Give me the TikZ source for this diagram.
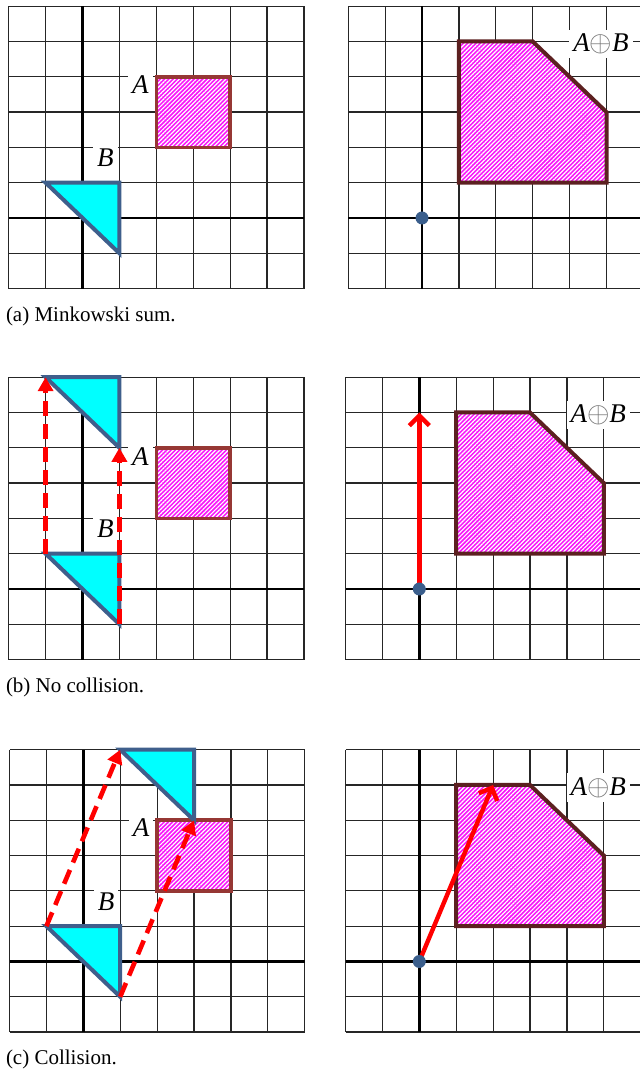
\documentclass[tikz,border=0pt]{standalone}
\usepackage{fontspec}
\setmainfont{Liberation Serif}
\usetikzlibrary{arrows.meta, patterns.meta}

\definecolor{robotblue}{RGB}{63,95,140}
\definecolor{robotfill}{RGB}{0,255,255}
\definecolor{obstred}{RGB}{150,55,52}
\definecolor{obstfill}{RGB}{250,20,250}
\definecolor{sumbrown}{RGB}{92,32,32}
\definecolor{dotblue}{RGB}{58,94,140}

\begin{document}
\begin{tikzpicture}[
    gridline/.style={draw=black!85, line width=0.6pt},
    axis/.style={draw=black, line width=1.4pt},
    robot/.style={fill=robotfill, draw=robotblue, line width=2pt},
    obst/.style={draw=obstred, line width=1.8pt, preaction={fill=obstfill}, pattern={Lines[angle=45, distance=1.5pt, line width=0.6pt]}, pattern color=white},
    msum/.style={obst, draw=sumbrown, line width=2pt},
    lbl/.style={fill=white, inner sep=2pt, font=\fontsize{13.5}{16}\selectfont\itshape},
    sweep/.style={-{Triangle[length=7pt, width=7.5pt]}, red, line width=2.3pt, dash pattern=on 7.5pt off 4pt},
    motion/.style={-{Straight Barb[length=5pt, width=10pt]}, red, line width=2.2pt},
    origin/.style={circle, fill=dotblue, inner sep=0pt, minimum size=6.5pt},
    caption/.style={anchor=base west, inner sep=0pt, font=\fontsize{10.5}{12}\selectfont},
    cellunit/.style={x=18.45pt, y=17.65pt}
]

% Grid Panel Definition
\tikzset{
    panel/.pic={
        \foreach \i in {-2,...,6} {
            \draw[gridline] (\i,-2) -- (\i,6);
            \draw[gridline] (-2,\i) -- (6,\i);
        }
        \draw[axis] (-2,0) -- (6,0);
        \draw[axis] (0,-2) -- (0,6);
    }
}

\useasboundingbox (0,0) rectangle (319.5pt,536.5pt);

% (a) Minkowski sum
\begin{scope}[shift={(41.25pt,427.5pt)}, cellunit]
    \pic (GridA) at (0,0) {panel};
    \draw[robot] (-1,1) -- (1,1) -- (1,-1) -- cycle;
    \draw[obst] (2,2) rectangle (4,4);
    \node[lbl] (LabelA1) at (1.57,3.78) {A};
    \node[lbl] (LabelB1) at (0.62,1.7) {B};
\end{scope}
\begin{scope}[shift={(211pt,427.5pt)}, cellunit]
    \pic (SumA) at (0,0) {panel};
    \draw[msum] (1,1) -- (5,1) -- (5,3) -- (3,5) -- (1,5) -- cycle;
    \node[lbl] (LabelS1) at (4.85,4.93) {A{\upshape\color{black!55}$\oplus$}B};
    \node[origin] (Dot1) at (0,0) {};
\end{scope}
\node[caption] (CapA) at (2.8pt,375.5pt) {(a) Minkowski sum.};

% (b) No collision
\begin{scope}[shift={(41.25pt,242pt)}, cellunit]
    \pic (GridB) at (0,0) {panel};
    \draw[robot] (-1,1) -- (1,1) -- (1,-1) -- cycle;
    \draw[robot] (-1,6) -- (1,6) -- (1,4) -- cycle;
    \draw[obst] (2,2) rectangle (4,4);
    \node[lbl] (LabelA2) at (1.57,3.75) {A};
    \node[lbl] (LabelB2) at (0.62,1.7) {B};
    \coordinate (StartL2) at (-1,1);
    \coordinate (EndL2) at (-1,6);
    \coordinate (StartR2) at (1,-1);
    \coordinate (EndR2) at (1,4);
    \draw[sweep] (StartL2) -- (EndL2);
    \draw[sweep] (StartR2) -- (EndR2);
\end{scope}
\begin{scope}[shift={(209.65pt,242pt)}, cellunit]
    \pic (SumB) at (0,0) {panel};
    \draw[msum] (1,1) -- (5,1) -- (5,3) -- (3,5) -- (1,5) -- cycle;
    \node[lbl] (LabelS2) at (4.85,4.93) {A{\upshape\color{black!55}$\oplus$}B};
    \coordinate (O2) at (0,0);
    \coordinate (T2) at (0,5);
    \draw[motion] (O2) -- (T2);
    \node[origin] (Dot2) at (O2) {};
\end{scope}
\node[caption] (CapB) at (2.8pt,190pt) {(b) No collision.};

% (c) Collision
\begin{scope}[shift={(41.65pt,55.75pt)}, cellunit]
    \pic (GridC) at (0,0) {panel};
    \draw[robot] (-1,1) -- (1,1) -- (1,-1) -- cycle;
    \draw[obst] (2,2) rectangle (4,4);
    \draw[robot] (1,6) -- (3,6) -- (3,4) -- cycle;
    \node[lbl] (LabelA3) at (1.57,3.8) {A};
    \node[lbl] (LabelB3) at (0.62,1.7) {B};
    \coordinate (StartL3) at (-1,1);
    \coordinate (EndL3) at (1,6);
    \coordinate (StartR3) at (1,-1);
    \coordinate (EndR3) at (3,4);
    \draw[sweep] (StartL3) -- (EndL3);
    \draw[sweep] (StartR3) -- (EndR3);
\end{scope}
\begin{scope}[shift={(209.65pt,55.75pt)}, cellunit]
    \pic (SumC) at (0,0) {panel};
    \draw[msum] (1,1) -- (5,1) -- (5,3) -- (3,5) -- (1,5) -- cycle;
    \node[lbl] (LabelS3) at (4.85,4.93) {A{\upshape\color{black!55}$\oplus$}B};
    \coordinate (O3) at (0,0);
    \coordinate (T3) at (2,5);
    \draw[motion] (O3) -- (T3);
    \node[origin] (Dot3) at (O3) {};
\end{scope}
\node[caption] (CapC) at (2.8pt,4.5pt) {(c) Collision.};

\end{tikzpicture}
\end{document}
